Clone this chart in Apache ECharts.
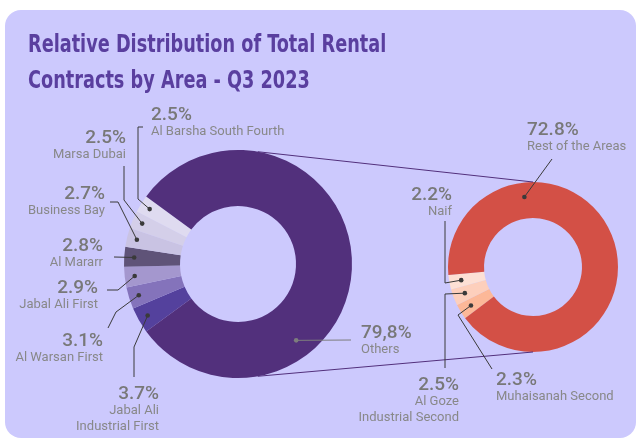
<!DOCTYPE html>
<html lang="en">
<head>
<meta charset="UTF-8">
<title>Rental Contracts by Area - Q3 2023</title>
<script src="https://cdn.jsdelivr.net/npm/echarts@6/dist/echarts.min.js"></script>
<style>
    html, body { margin: 0; padding: 0; background: #fff; }
    #chart { width: 640px; height: 439px; }
</style>
</head>
<body>
<div id="chart"></div>
<script>
// left ring, listed bottom to top, then the big slice
const areaNames = ['Jabal Ali\nIndustrial First', 'Al Warsan First', 'Jabal Ali First', 'Al Mararr',
    'Business Bay', 'Marsa Dubai', 'Al Barsha South Fourth', 'Others'];
const areaValues = [3.7, 3.1, 2.9, 2.8, 2.7, 2.5, 2.5, 79.8];
const areaLabels = ['3.7%', '3.1%', '2.9%', '2.8%', '2.7%', '2.5%', '2.5%', '79,8%'];

// right ring = breakdown of "Others"
const restNames = ['Muhaisanah Second', 'Al Goze\nIndustrial Second', 'Naif', 'Rest of the Areas'];
const restValues = [2.3, 2.5, 2.2, 72.8];
const restLabels = ['2.3%', '2.5%', '2.2%', '72.8%'];

const titleText = 'Relative Distribution of Total Rental\nContracts by Area - Q3 2023';

const areaColors = ['#54419d', '#8473bb', '#a497ce', '#5f5378', '#c9c3e3', '#d4cfe9', '#dfdbf0', '#52307c'];
const restColors = ['#fcb898', '#fdcfbc', '#fde0d5', '#d35046'];

// ring geometry (px)
const L = {cx: 238, cy: 264, r0: 58, r1: 114, start: 216.36};
const R = {cx: 533, cy: 267, r0: 49, r1: 85, start: 217};

// label anchors + leader line bends
const areaSpots = [
    {x: 159, y: 385, align: 'right', path: [[134, 347], [134, 377]]},
    {x: 103, y: 332, align: 'right', path: [[116, 312], [108, 328]]},
    {x: 98, y: 279, align: 'right', path: [[118, 290], [107, 290]]},
    {x: 103, y: 237, align: 'right', path: [[114, 257]]},
    {x: 105, y: 185, align: 'right', path: [[118, 202], [110, 202]]},
    {x: 126, y: 129, align: 'right', path: [[124, 200], [124, 166]]},
    {x: 151, y: 106, align: 'left', path: [[138, 199], [138, 127], [143, 127]]},
    {x: 361, y: 324, align: 'left', path: [[351, 340]], at: [-52.7, 96], grey: true}
];
const restSpots = [
    {x: 496, y: 371, align: 'left', path: [[458, 315], [492, 369]]},
    {x: 459, y: 376, align: 'right', path: [[445, 294], [445, 368]]},
    {x: 452, y: 186, align: 'right', path: [[445, 283], [445, 221]]},
    {x: 527, y: 121, align: 'left', path: [[552, 159]], at: [97, 70.6]}
];

function pt(g, deg, r) {
    const a = deg * Math.PI / 180;
    return [g.cx + r * Math.cos(a), g.cy - r * Math.sin(a)];
}

function leaders(g, values, spots, dotR) {
    const total = values.reduce((a, b) => a + b, 0);
    let ang = g.start;
    const out = [];
    values.forEach(function (v, i) {
        const sweep = v / total * 360;
        const mid = ang - sweep / 2;
        ang -= sweep;
        const s = spots[i];
        const dot = s.at ? pt(g, s.at[0], s.at[1]) : pt(g, mid, dotR);
        const col = s.grey ? '#7d7d7d' : '#3a3a3a';
        out.push({
            type: 'polyline', z: 20, silent: true,
            shape: {points: [dot].concat(s.path)},
            style: {stroke: col, lineWidth: 1, fill: null}
        });
        out.push({
            type: 'circle', z: 21, silent: true,
            shape: {cx: dot[0], cy: dot[1], r: 2.3},
            style: {fill: col}
        });
    });
    return out;
}

function ringSeries(g, names, values, labels, colors, spots) {
    return {
        type: 'pie',
        center: [g.cx, g.cy],
        radius: [g.r0, g.r1],
        startAngle: g.start,
        clockwise: true,
        avoidLabelOverlap: false,
        silent: true,
        itemStyle: {borderWidth: 0},
        labelLine: {show: false},
        label: {
            show: true,
            position: 'outside',
            formatter: function (p) {
                return '{p|' + labels[p.dataIndex] + '}\n{n|' + names[p.dataIndex] + '}';
            },
            rich: {
                p: {fontFamily: 'Roboto', fontSize: 19, fontWeight: 500, color: '#787878', lineHeight: 18},
                n: {fontFamily: 'Roboto', fontSize: 13, color: '#888888', lineHeight: 16}
            }
        },
        labelLayout: function (p) {
            const s = spots[p.dataIndex];
            return {x: s.x, y: s.y, align: s.align, verticalAlign: 'top'};
        },
        data: names.map(function (n, i) {
            return {name: n, value: values[i], itemStyle: {color: colors[i]},
                label: {align: spots[i].align}};
        })
    };
}

let chart = echarts.init(document.getElementById('chart'));

const topA = pt(L, 80, L.r1), botA = pt(L, -80, L.r1);
const topB = pt(R, 90, R.r1), botB = pt(R, -90, R.r1);

let option = {
    backgroundColor: '#ffffff',
    animation: false,
    graphic: [
        {
            type: 'rect', z: -10, silent: true,
            shape: {x: 5, y: 10, width: 631, height: 428, r: 16},
            style: {fill: '#ccc9fd'}
        },
        {
            // condensed bold title, squeezed to the original's width
            type: 'text', z: 30, silent: true,
            x: 28, y: 27, scaleX: 0.82, scaleY: 1.04,
            style: {
                text: titleText,
                fontFamily: "'DejaVu Sans Condensed', sans-serif",
                fontSize: 24,
                fontWeight: 'bold',
                lineHeight: 35,
                fill: '#5a3f9f',
                verticalAlign: 'top'
            }
        },
        {
            type: 'polyline', z: 5, silent: true,
            shape: {points: [topA, topB]},
            style: {stroke: '#52307c', lineWidth: 1, fill: null}
        },
        {
            type: 'polyline', z: 5, silent: true,
            shape: {points: [botA, botB]},
            style: {stroke: '#52307c', lineWidth: 1, fill: null}
        }
    ].concat(leaders(L, areaValues, areaSpots, 104), leaders(R, restValues, restSpots, 73)),
    series: [
        ringSeries(L, areaNames, areaValues, areaLabels, areaColors, areaSpots),
        ringSeries(R, restNames, restValues, restLabels, restColors, restSpots)
    ]
};
chart.setOption(option);
</script>
</body>
</html>
